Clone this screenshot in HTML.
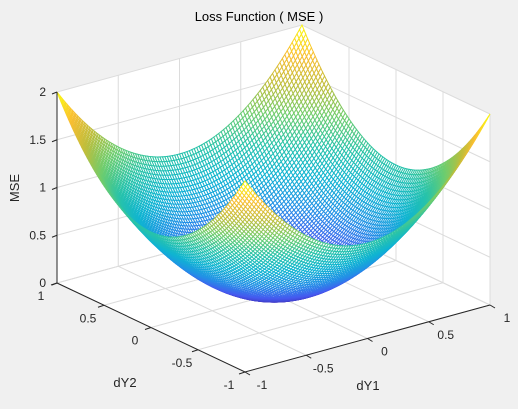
<!DOCTYPE html>
<html><head><meta charset="utf-8"><style>
html,body{margin:0;padding:0;background:#f0f0f0;}
svg{display:block;font-family:"Liberation Sans",sans-serif;}
</style></head><body>
<svg id="c" width="518" height="409" viewBox="0 0 518 409"></svg>
<script>
const dY1Ticks=[-1,-0.5,0,0.5,1];
const dY2Ticks=[-1,-0.5,0,0.5,1];
const zTicks=[0,0.5,1,1.5,2];
const tickLabels1=["-1","-0.5","0","0.5","1"];
const tickLabels2=["-1","-0.5","0","0.5","1"];
const zLabels=["0","0.5","1","1.5","2"];
const gridN=101;
const gridMin=-1, gridMax=1;
function mse(a,b){return a*a+b*b;}

const NS="http://www.w3.org/2000/svg";
const svg=document.getElementById('c');
const O=[273.5,294],EX=[122.5,-33.5],EY=[-94,-44.5],EZ=95.5;
function P(x,y,z){return [O[0]+x*EX[0]+y*EY[0], O[1]+x*EX[1]+y*EY[1]-z*EZ];}
function mk(t,a,p){const e=document.createElementNS(NS,t);for(const k in a)e.setAttribute(k,a[k]);(p||svg).appendChild(e);return e;}
function pts(arr){return arr.map(p=>p[0].toFixed(2)+','+p[1].toFixed(2)).join(' ');}

const bg=mk('polygon',{points:pts([P(-1,1,0),P(-1,1,2),P(1,1,2),P(1,-1,2),P(1,-1,0),P(-1,-1,0)]),fill:'#fff'});


const grid=mk('g',{stroke:'#dcdcdc','stroke-width':1,fill:'none'});


dY1Ticks.forEach(t=>{mk('polyline',{points:pts([P(t,-1,0),P(t,1,0),P(t,1,2)])},grid);});
dY2Ticks.forEach(t=>{mk('polyline',{points:pts([P(-1,t,0),P(1,t,0),P(1,t,2)])},grid);});
zTicks.forEach(z=>{mk('polyline',{points:pts([P(-1,1,z),P(1,1,z),P(1,-1,z)])},grid);});

const stops=[[62,38,168],[70,90,240],[35,145,230],[15,180,210],[40,195,170],[110,205,110],[190,190,60],[250,190,50],[249,251,14]];
function parula(v){v=Math.max(0,Math.min(1,v))*(stops.length-1);const i=Math.min(Math.floor(v),stops.length-2),f=v-i;const a=stops[i],b=stops[i+1];return 'rgb('+[0,1,2].map(k=>Math.round(a[k]+(b[k]-a[k])*f)).join(',')+')';}

const xs=[];for(let i=0;i<gridN;i++)xs.push(gridMin+(gridMax-gridMin)*i/(gridN-1));
const quads=[];
const V=[-0.527,-0.687,0.5];
for(let i=0;i<gridN-1;i++)for(let j=0;j<gridN-1;j++){
  const c=[[xs[i],xs[j]],[xs[i+1],xs[j]],[xs[i+1],xs[j+1]],[xs[i],xs[j+1]]].map(q=>[q[0],q[1],mse(q[0],q[1])]);
  const zc=(c[0][2]+c[1][2]+c[2][2]+c[3][2])/4;
  const cx=(xs[i]+xs[i+1])/2,cy=(xs[j]+xs[j+1])/2;
  quads.push({c,zc,d:V[0]*cx+V[1]*cy+V[2]*zc});
}
quads.sort((a,b)=>a.d-b.d);
const mesh=mk('g',{'stroke-width':1,fill:'#fff'});


quads.forEach(q=>{mk('polygon',{points:pts(q.c.map(p=>P(p[0],p[1],p[2]))),stroke:parula(q.zc/2)},mesh);});

const ax=mk('g',{stroke:'#262626','stroke-width':1,fill:'none'});


mk('polyline',{points:pts([P(-1,1,2),P(-1,1,0),P(-1,-1,0),P(1,-1,0)])},ax);
zTicks.forEach(z=>{const p=P(-1,1,z);mk('line',{x1:p[0]-5,y1:p[1]+2,x2:p[0],y2:p[1]},ax);});
dY2Ticks.forEach(t=>{const p=P(-1,t,0);mk('line',{x1:p[0],y1:p[1],x2:p[0]-6,y2:p[1]+2},ax);});
dY1Ticks.forEach(t=>{const p=P(t,-1,0);mk('line',{x1:p[0],y1:p[1],x2:p[0]+5,y2:p[1]+3},ax);});

function txt(x,y,s,anchor,name,extra){const e=mk('text',Object.assign({x:x,y:y,'font-size':12,fill:'#262626','text-anchor':anchor},extra||{}));e.textContent=s;return e;}
zTicks.forEach((z,i)=>{const p=P(-1,1,z);txt(p[0]-11,p[1]+4,zLabels[i],'end','z-tick-label');});
dY2Ticks.forEach((t,i)=>{const p=P(-1,t,0);txt(p[0]-16,p[1]+17,tickLabels2[i],'middle','dy2-tick-label');});
dY1Ticks.forEach((t,i)=>{const p=P(t,-1,0);txt(p[0]+17,p[1]+17,tickLabels1[i],'middle','dy1-tick-label');});
txt(125,387,'dY2','middle','dy2-axis-title',{'font-size':13});
txt(368,390,'dY1','middle','dy1-axis-title',{'font-size':13});
txt(19,188,'MSE','middle','z-axis-title',{'font-size':13,transform:'rotate(-90 19 188)'});
txt(259,21,'Loss Function ( MSE )','middle','chart-title',{'font-size':13,fill:'#000'});
</script>
</body></html>
